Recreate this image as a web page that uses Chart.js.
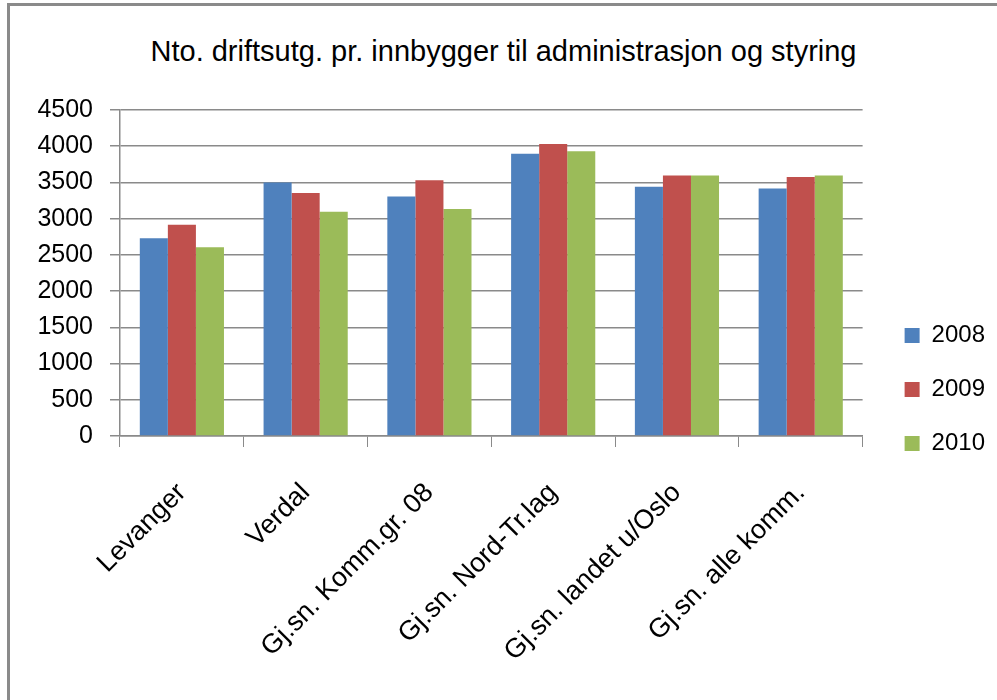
<!DOCTYPE html>
<html>
<head>
<meta charset="utf-8">
<script src="https://cdn.jsdelivr.net/npm/chart.js"></script>
<style>
  html, body { margin: 0; padding: 0; background: #fff; }
  body { width: 997px; height: 700px; overflow: hidden; position: relative; }
  .frame {
    position: absolute; left: 7px; top: 3px; right: -10px; bottom: -10px;
    border-top: 3px solid #8a8a8a; border-left: 3px solid #8a8a8a;
  }
  h1 {
    position: absolute; left: 10px; width: 987px; top: 35px; margin: 0;
    font: 29px "Liberation Sans", Arial, sans-serif; text-align: center; color: #000;
  }
  .wrap { position: absolute; left: 10px; top: 78px; width: 987px; height: 622px; }
</style>
</head>
<body>
<div class="frame"></div>
<h1>Nto. driftsutg. pr. innbygger til administrasjon og styring</h1>
<div class="wrap"><canvas id="driftChart" width="987" height="622"></canvas></div>
<script>
// kommuner / snitt
const categories = ['Levanger', 'Verdal', 'Gj.sn. Komm.gr. 08', 'Gj.sn. Nord-Tr.lag', 'Gj.sn. landet u/Oslo', 'Gj.sn. alle komm.'];
const years = ['2008', '2009', '2010'];
const values2008 = [2730, 3500, 3305, 3895, 3440, 3415];
const values2009 = [2915, 3355, 3530, 4030, 3595, 3575];
const values2010 = [2605, 3095, 3135, 3930, 3595, 3595];
const yTicks = [0, 500, 1000, 1500, 2000, 2500, 3000, 3500, 4000, 4500];
const colors = ['#4F81BD', '#C0504D', '#9BBB59'];

const family = '"Liberation Sans", Arial, sans-serif';
const gridColor = '#8a8a8a';

// nudge the legend block a little right/up from where the layout puts it
const legendNudge = {
    id: 'legendNudge',
    afterLayout(chart) {
        const l = chart.legend;
        l.left += 12; l.right += 12;
        l.top -= 6; l.bottom -= 6;
    }
};

const ctx = document.getElementById('driftChart').getContext('2d');
const driftChart = new Chart(ctx, {
    type: 'bar',
    data: {
        labels: categories,
        datasets: [values2008, values2009, values2010].map((vals, i) => ({
            label: years[i],
            data: vals,
            backgroundColor: colors[i],
            borderWidth: 0,
            categoryPercentage: 0.68,
            barPercentage: 1
        }))
    },
    plugins: [legendNudge],
    options: {
        responsive: false,
        animation: false,
        layout: { padding: { top: 13, right: 14 } },
        plugins: {
            tooltip: { enabled: false },
            legend: {
                position: 'right',
                labels: {
                    color: '#000',
                    font: { family: family, size: 24 },
                    boxWidth: 15,
                    boxHeight: 15,
                    padding: 30
                }
            }
        },
        scales: {
            x: {
                afterFit(scale) { scale.height = 264; },
                grid: { drawOnChartArea: false, color: gridColor, tickLength: 11, offset: true },
                border: { color: gridColor, width: 1.5 },
                ticks: { color: '#000', font: { family: family, size: 27 }, maxRotation: 45, minRotation: 45, padding: 30 }
            },
            y: {
                min: 0,
                max: 4500,
                afterFit(scale) { scale.width = 110; },
                afterBuildTicks(scale) { scale.ticks = yTicks.map(v => ({ value: v })); },
                grid: { color: gridColor, lineWidth: 1.5, tickLength: 10 },
                border: { color: gridColor, width: 1.5 },
                ticks: {
                    color: '#000',
                    font: { family: family, size: 25 },
                    padding: 17,
                    callback: v => String(v)
                }
            }
        }
    }
});
</script>
</body>
</html>
